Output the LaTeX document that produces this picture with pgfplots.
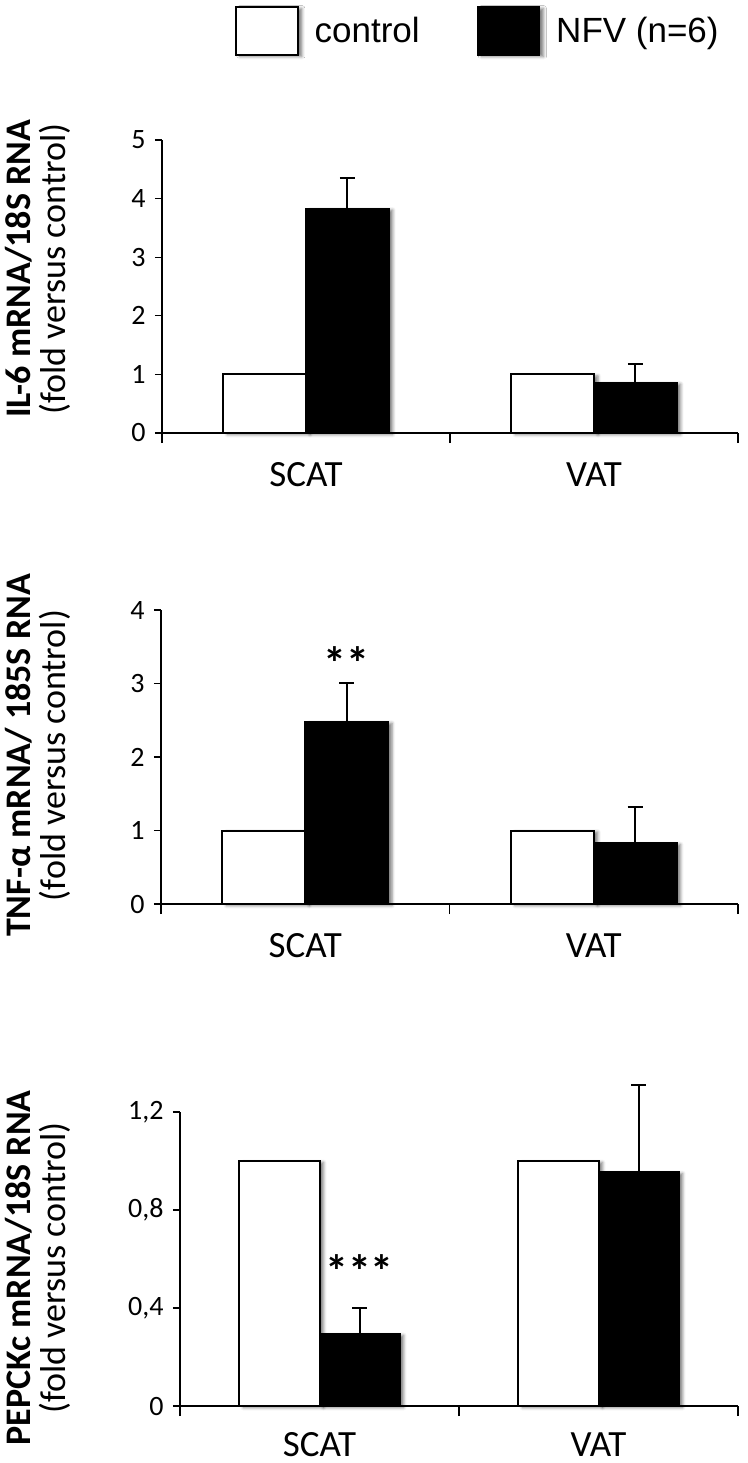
\documentclass[border=0pt]{standalone}
\usepackage{fontspec}
\setmainfont{Carlito}
\newfontfamily\legfont{Liberation Sans}
\usepackage{pgfplots}
\pgfplotsset{compat=1.18}
\usetikzlibrary{shadows.blur}

\pgfplotsset{
  panel/.style={
    scale only axis, anchor=south west,
    xmin=0, xmax=2, ymin=0,
    axis x line=bottom, axis y line=left,
    axis line style={-, line width=1.2pt},
    tick align=outside,
    tick style={line width=1.2pt, black},
    xtick={0.5,1.5}, xticklabels={SCAT,VAT},
    minor xtick={0,1,2},
    minor tick length=10pt, major tick length=7pt,
    major x tick style={draw=none},
    xticklabel style={font=\fontsize{37}{37}\selectfont, anchor=base, yshift=-46pt},
    yticklabel style={font=\fontsize{28}{28}\selectfont, xshift=-6pt},
    ylabel style={anchor=center, align=center, font=\fontsize{36}{35}\selectfont},
    clip=false,
  },
  ctrl/.style={ybar, bar width=0.287, bar shift=0pt, fill=white, draw=black, line width=2pt,
    blur shadow={shadow xshift=4pt, shadow yshift=-1.5pt, shadow blur radius=3pt, shadow opacity=50}},
  nfv/.style={ybar, bar width=0.287, bar shift=0pt, fill=black, draw=black, line width=2pt,
    blur shadow={shadow xshift=4pt, shadow yshift=-1.5pt, shadow blur radius=3pt, shadow opacity=50}},
  errs/.style={draw=none, forget plot, error bars/.cd, y dir=plus, y explicit,
    error mark=|,
    error bar style={draw=black, line width=2pt},
    error mark options={draw=black, mark size=7.5pt, line width=2pt}},
}

\begin{document}
\begin{tikzpicture}
\useasboundingbox (0,0) rectangle (747pt,-1463pt);

% Panel 1: IL-6
\begin{axis}[panel, at={(162pt,-433pt)}, width=576pt, height=293pt,
  ymax=5, ytick={0,1,2,3,4,5}, yticklabels={0,1,2,3,4,5},
  ylabel={\textbf{IL-6 mRNA/18S RNA}\\(fold versus control)},
  ylabel style={at={(axis description cs:-0.2153,0.56)}},
  legend columns=2,
  legend style={at={(axis description cs:0.1215,1.372)}, anchor=west, draw=none,
    font=\legfont\fontsize{35}{35}\selectfont,
    /tikz/every odd column/.append style={column sep=14pt},
    /tikz/every even column/.append style={column sep=55pt}},
  legend image code/.code={\draw[#1, line width=1.5pt] (0pt,-24pt) rectangle (62pt,24pt);},
]
\addplot[ctrl] coordinates {(0.3565,1) (1.3565,1)};
\addplot[nfv] coordinates {(0.6435,3.83) (1.6435,0.86)};
\addplot[errs] coordinates {(0.6435,3.83) +- (0,0.53) (1.6435,0.86) +- (0,0.31)};
\legend{control, NFV (n=6)}
\end{axis}

% Panel 2: TNF-alpha
\begin{axis}[panel, at={(161pt,-904pt)}, width=577pt, height=294pt,
  ymax=4, ytick={0,1,2,3,4}, yticklabels={0,1,2,3,4},
  ylabel={\textbf{TNF-α mRNA/ 185S RNA}\\(fold versus control)},
  ylabel style={at={(axis description cs:-0.213,0.505)}},
]
\addplot[ctrl] coordinates {(0.3565,1) (1.3565,1)};
\addplot[nfv] coordinates {(0.6435,2.48) (1.6435,0.83)};
\addplot[errs] coordinates {(0.6435,2.48) +- (0,0.53) (1.6435,0.83) +- (0,0.49)};
\node[font=\bfseries\fontsize{46}{46}\selectfont] at (axis cs:0.6435,3.28) {**};
\end{axis}

% Panel 3: PEPCKc
\begin{axis}[panel, at={(180pt,-1406pt)}, width=558pt, height=294pt,
  ymax=1.2, ytick={0,0.4,0.8,1.2}, yticklabels={0,{0,4},{0,8},{1,2}},
  xticklabel style={yshift=3pt},
  ylabel={\textbf{PEPCKc mRNA/18S RNA}\\(fold versus control)},
  ylabel style={at={(axis description cs:-0.2545,0.47)}},
]
\addplot[ctrl] coordinates {(0.3565,1) (1.3565,1)};
\addplot[nfv] coordinates {(0.6435,0.294) (1.6435,0.955)};
\addplot[errs] coordinates {(0.6435,0.294) +- (0,0.106) (1.6435,0.955) +- (0,0.355)};
\node[font=\bfseries\fontsize{46}{46}\selectfont] at (axis cs:0.6435,0.55) {***};
\end{axis}
\end{tikzpicture}
\end{document}
